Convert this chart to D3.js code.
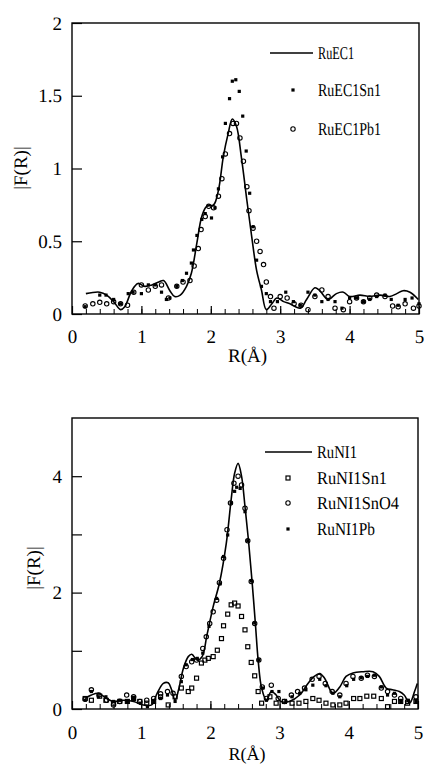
<!DOCTYPE html>
<html>
<head>
<meta charset="utf-8">
<script src="https://cdn.jsdelivr.net/npm/d3@7"></script>
<style>
  body { margin: 0; background: #fff; }
  svg text { font-family: 'Liberation Serif', 'Times New Roman', serif; fill: #000; text-rendering: geometricPrecision; }
</style>
</head>
<body>
<svg id="chart" width="427" height="765"></svg>
<script>
// ---- top panel data (RuEC1 series) ----
var ec1R = [0.2,0.4,0.5,0.6,0.7,0.76,0.86,0.95,1.05,1.15,1.25,1.32,1.41,1.48,1.56,1.65,1.72,1.8,1.87,1.94,2.04,2.11,2.18,2.25,2.31,2.37,2.44,2.52,2.59,2.66,2.73,2.8,2.88,2.95,3.05,3.14,3.29,3.38,3.5,3.57,3.69,3.81,3.91,4.0,4.15,4.29,4.44,4.58,4.68,4.77,4.87,4.99];
var ec1F = [0.14,0.15,0.13,0.085,0.03,0.05,0.16,0.21,0.19,0.2,0.22,0.23,0.16,0.12,0.13,0.19,0.28,0.49,0.67,0.74,0.75,0.85,1.08,1.24,1.34,1.29,1.08,0.78,0.53,0.30,0.165,0.03,0.07,0.11,0.085,0.07,0.04,0.10,0.18,0.16,0.10,0.14,0.15,0.12,0.13,0.12,0.13,0.12,0.14,0.16,0.15,0.10];

var ec1Sn1R = [0.19,0.4,0.49,0.6,0.7,0.81,0.88,1.0,1.1,1.2,1.29,1.36,1.41,1.51,1.59,1.65,1.72,1.75,1.8,1.87,1.92,2.01,2.06,2.11,2.17,2.21,2.27,2.31,2.36,2.41,2.46,2.51,2.56,2.61,2.66,2.73,2.8,2.86,2.96,3.08,3.19,3.29,3.4,3.5,3.6,3.69,3.79,3.89,4.0,4.1,4.2,4.29,4.39,4.51,4.6,4.7,4.8,4.9,5.0];
var ec1Sn1F = [0.05,0.13,0.13,0.1,0.07,0.14,0.15,0.14,0.2,0.2,0.15,0.1,0.11,0.19,0.23,0.28,0.35,0.44,0.54,0.65,0.69,0.66,0.73,0.86,1.08,1.31,1.48,1.6,1.61,1.53,1.36,1.12,0.83,0.6,0.37,0.19,0.14,0.085,0.085,0.15,0.085,0.06,0.15,0.13,0.085,0.1,0.085,0.04,0.11,0.11,0.085,0.1,0.12,0.13,0.1,0.06,0.1,0.11,0.07];

var ec1Pb1R = [0.19,0.3,0.4,0.5,0.6,0.7,0.8,0.89,1.0,1.1,1.2,1.29,1.39,1.51,1.6,1.7,1.76,1.82,1.86,1.92,1.97,2.04,2.11,2.16,2.21,2.27,2.32,2.37,2.42,2.47,2.52,2.55,2.61,2.66,2.71,2.76,2.8,2.86,2.91,3.0,3.1,3.2,3.3,3.4,3.5,3.6,3.69,3.79,3.91,4.0,4.1,4.2,4.29,4.39,4.51,4.62,4.7,4.8,4.92,5.0];
var ec1Pb1F = [0.055,0.07,0.08,0.07,0.085,0.07,0.06,0.15,0.2,0.165,0.19,0.2,0.11,0.19,0.22,0.23,0.33,0.45,0.58,0.67,0.74,0.73,0.81,0.93,1.1,1.24,1.31,1.31,1.21,1.05,0.875,0.71,0.59,0.5,0.43,0.34,0.22,0.12,0.04,0.12,0.11,0.07,0.06,0.03,0.12,0.165,0.12,0.04,0.03,0.085,0.11,0.085,0.11,0.13,0.12,0.055,0.05,0.07,0.04,0.055];

// ---- bottom panel data (RuNI1 series) ----
var ni1R = [0.19,0.28,0.38,0.5,0.6,0.74,0.89,1.03,1.15,1.23,1.32,1.39,1.44,1.49,1.54,1.61,1.68,1.73,1.81,1.88,1.95,2.04,2.13,2.23,2.3,2.35,2.4,2.45,2.5,2.55,2.6,2.65,2.69,2.74,2.81,2.88,2.95,3.02,3.14,3.29,3.41,3.5,3.58,3.65,3.77,3.87,3.96,4.06,4.2,4.35,4.44,4.54,4.63,4.73,4.8,4.88,4.95,4.99];
var ni1F = [0.18,0.24,0.27,0.18,0.13,0.15,0.13,0.07,0.07,0.27,0.44,0.45,0.33,0.15,0.33,0.7,0.9,0.94,0.84,0.9,1.27,1.76,2.16,2.85,3.6,4.05,4.22,4.0,3.48,2.9,2.22,1.47,0.84,0.36,0.15,0.3,0.24,0.13,0.13,0.24,0.44,0.56,0.61,0.53,0.27,0.38,0.56,0.62,0.64,0.64,0.56,0.36,0.33,0.3,0.24,0.1,0.3,0.44];

var ni1Sn1R = [0.19,0.28,0.4,0.49,0.6,0.69,0.8,0.89,0.98,1.08,1.18,1.28,1.39,1.49,1.58,1.68,1.73,1.8,1.87,1.92,1.97,2.04,2.1,2.16,2.19,2.25,2.3,2.35,2.4,2.45,2.5,2.54,2.59,2.64,2.69,2.74,2.86,2.95,3.07,3.18,3.28,3.38,3.48,3.57,3.67,3.77,3.87,3.96,4.07,4.16,4.26,4.36,4.47,4.56,4.66,4.75,4.85,4.97];
var ni1Sn1F = [0.18,0.15,0.22,0.15,0.1,0.13,0.13,0.18,0.13,0.1,0.13,0.21,0.07,0.21,0.36,0.3,0.36,0.53,0.79,0.84,0.87,0.9,1.01,1.21,1.43,1.63,1.79,1.82,1.77,1.59,1.36,1.07,0.8,0.57,0.3,0.1,0.21,0.1,0.13,0.1,0.1,0.13,0.18,0.15,0.1,0.07,0.07,0.1,0.18,0.18,0.22,0.22,0.18,0.04,0.13,0.13,0.1,0.13];

var ni1SnO4R = [0.19,0.28,0.39,0.5,0.6,0.69,0.79,0.89,0.98,1.08,1.18,1.28,1.38,1.46,1.58,1.65,1.73,1.8,1.89,1.94,1.99,2.04,2.09,2.13,2.19,2.24,2.29,2.34,2.4,2.45,2.5,2.54,2.59,2.64,2.7,2.75,2.81,2.88,2.98,3.07,3.17,3.26,3.36,3.47,3.57,3.66,3.76,3.87,3.96,4.06,4.18,4.27,4.37,4.47,4.56,4.66,4.75,4.85,4.97];
var ni1SnO4F = [0.17,0.33,0.24,0.15,0.07,0.13,0.24,0.21,0.13,0.15,0.18,0.26,0.3,0.27,0.56,0.73,0.81,0.84,1.04,1.24,1.47,1.67,1.87,2.17,2.59,3.08,3.54,3.88,4.0,3.85,3.45,2.89,2.19,1.47,0.84,0.38,0.18,0.41,0.18,0.13,0.24,0.3,0.36,0.51,0.56,0.44,0.3,0.24,0.44,0.56,0.53,0.58,0.56,0.36,0.3,0.24,0.18,0.13,0.21];

var ni1PbR = [0.19,0.28,0.38,0.49,0.6,0.69,0.8,0.89,0.99,1.09,1.18,1.28,1.38,1.49,1.58,1.65,1.74,1.81,1.89,1.98,2.09,2.14,2.19,2.25,2.3,2.35,2.38,2.43,2.5,2.54,2.59,2.64,2.7,2.76,2.81,2.89,2.99,3.09,3.18,3.29,3.38,3.48,3.58,3.67,3.77,3.87,3.97,4.07,4.18,4.27,4.37,4.47,4.56,4.66,4.75,4.86,4.97];
var ni1PbF = [0.15,0.3,0.21,0.21,0.13,0.15,0.13,0.18,0.1,0.04,0.13,0.18,0.24,0.13,0.47,0.76,0.85,0.87,0.96,1.42,1.9,2.15,2.62,2.99,3.54,3.74,3.81,3.79,3.39,2.89,2.2,1.48,0.84,0.36,0.15,0.3,0.3,0.13,0.21,0.27,0.33,0.41,0.51,0.4,0.27,0.21,0.4,0.51,0.54,0.56,0.58,0.38,0.24,0.27,0.13,0.15,0.13];

// ---- axes / legend text ----
var xTicks = [0, 1, 2, 3, 4, 5];
var xTickLabels = ['0', '1', '2', '3', '4', '5'];
var topYTicks = [0, 0.5, 1, 1.5, 2];
var topYTickLabels = ['0', '0.5', '1', '1.5', '2'];
var botYTicks = [0, 1, 2, 3, 4];
var botYTickLabels = ['0', '', '2', '', '4'];
var topNames = ['RuEC1', 'RuEC1Sn1', 'RuEC1Pb1'];
var botNames = ['RuNI1', 'RuNI1Sn1', 'RuNI1SnO4', 'RuNI1Pb'];

var svg = d3.select('#chart');

function zip(a, b) {
  return a.map(function(v, i) { return [v, b[i]]; });
}

// marker drawing helpers
function drawMarker(g, kind, cx, cy) {
  if (kind == 'fill') {
    g.append('rect').attr('x', cx - 1.6).attr('y', cy - 1.6)
      .attr('width', 3.2).attr('height', 3.2).style('fill', '#000');
  } else if (kind == 'circle') {
    g.append('circle').attr('cx', cx).attr('cy', cy).attr('r', 2.2)
      .style('fill', 'none').style('stroke', '#000').style('stroke-width', 1.1);
  } else if (kind == 'square') {
    g.append('rect').attr('x', cx - 2).attr('y', cy - 2)
      .attr('width', 4).attr('height', 4)
      .style('fill', 'none').style('stroke', '#000').style('stroke-width', 1.2);
  }
}

function buildPanel(p) {
  var g = svg.append('g');

  var x = d3.scaleLinear().domain([0, 5]).range([p.left, p.right]);
  var y = d3.scaleLinear().domain([0, p.yMax]).range([p.bottom, p.top]);

  // frame
  g.append('rect')
    .attr('x', p.left).attr('y', p.top)
    .attr('width', p.right - p.left).attr('height', p.bottom - p.top)
    .style('fill', 'none').style('stroke', '#000').style('stroke-width', 1.4);

  // minor x ticks (every 0.2), inward
  var minor = d3.range(1, 25).map(function(i) { return i * 0.2; });
  g.append('g')
    .attr('transform', 'translate(0,' + p.bottom + ')')
    .call(d3.axisBottom(x).tickValues(minor).tickSize(-5).tickFormat(''))
    .call(function(a) { a.select('.domain').remove(); });

  // major x ticks + labels
  var xAxis = g.append('g')
    .attr('transform', 'translate(0,' + p.bottom + ')')
    .call(d3.axisBottom(x).tickValues(xTicks).tickSize(-8).tickPadding(p.xPad)
      .tickFormat(function(d, i) { return xTickLabels[i]; }));
  xAxis.select('.domain').remove();
  xAxis.selectAll('line').style('stroke-width', 1.2);
  xAxis.selectAll('text').attr('font-size', 19).style('font-family', 'Liberation Serif');

  // y ticks + labels
  var yAxis = g.append('g')
    .attr('transform', 'translate(' + p.left + ',0)')
    .call(d3.axisLeft(y).tickValues(p.yTicks).tickSize(-10).tickPadding(10)
      .tickFormat(function(d, i) { return p.yLabels[i]; }));
  yAxis.select('.domain').remove();
  yAxis.selectAll('line').style('stroke-width', 1.2);
  yAxis.selectAll('text').attr('font-size', 19).style('font-family', 'Liberation Serif');

  // axis titles
  g.append('text')
    .attr('x', (p.left + p.right) / 2 + 2).attr('y', p.xTitleY)
    .attr('text-anchor', 'middle').attr('font-size', p.xTitleSize)
    .text('R(Å)');
  g.append('text')
    .attr('transform', 'translate(' + p.yTitleX + ',' + p.yTitleY + ') rotate(-90)')
    .attr('text-anchor', 'middle').attr('font-size', 19)
    .text('|F(R)|');

  // solid curve
  var line = d3.line()
    .x(function(d) { return x(d[0]); })
    .y(function(d) { return y(d[1]); })
    .curve(d3.curveCatmullRom);
  g.append('path')
    .attr('d', line(zip(p.lineR, p.lineF)))
    .style('fill', 'none').style('stroke', '#000').style('stroke-width', 1.6);

  // point series
  p.series.forEach(function(s) {
    var sg = g.append('g');
    s.r.forEach(function(r, i) {
      drawMarker(sg, s.kind, x(r), y(s.f[i]));
    });
  });

  // legend
  var lg = g.append('g');
  lg.append('line')
    .attr('x1', p.legLine[0]).attr('x2', p.legLine[1])
    .attr('y1', p.legRows[0]).attr('y2', p.legRows[0])
    .style('stroke', '#000').style('stroke-width', 1.6);
  p.series.forEach(function(s, i) {
    drawMarker(lg, s.kind, p.legMark, p.legRows[i + 1]);
  });
  p.names.forEach(function(n, i) {
    lg.append('text')
      .attr('x', p.legText).attr('y', p.legRows[i] + 6)
      .attr('font-size', 18)
      .attr('textLength', p.legWidths[i])
      .attr('lengthAdjust', 'spacingAndGlyphs')
      .text(n);
  });
}

buildPanel({
  left: 72, right: 419, top: 23, bottom: 314, yMax: 2,
  yTicks: topYTicks, yLabels: topYTickLabels,
  xPad: 16, xTitleY: 362, xTitleSize: 19, yTitleX: 27, yTitleY: 168,
  lineR: ec1R, lineF: ec1F,
  series: [
    { r: ec1Sn1R, f: ec1Sn1F, kind: 'fill' },
    { r: ec1Pb1R, f: ec1Pb1F, kind: 'circle' }
  ],
  names: topNames,
  legLine: [270, 313], legMark: 293, legText: 318,
  legRows: [53, 90, 129],
  legWidths: [36, 63, 63]
});

buildPanel({
  left: 72, right: 418, top: 418, bottom: 709, yMax: 5,
  yTicks: botYTicks, yLabels: botYTickLabels,
  xPad: 17, xTitleY: 760, xTitleSize: 18, yTitleX: 40, yTitleY: 568,
  lineR: ni1R, lineF: ni1F,
  series: [
    { r: ni1Sn1R, f: ni1Sn1F, kind: 'square' },
    { r: ni1SnO4R, f: ni1SnO4F, kind: 'circle' },
    { r: ni1PbR, f: ni1PbF, kind: 'fill' }
  ],
  names: botNames,
  legLine: [265, 312], legMark: 288, legText: 317,
  legRows: [452, 478, 503, 529],
  legWidths: [40, 70, 82, 58]
});
</script>
</body>
</html>
